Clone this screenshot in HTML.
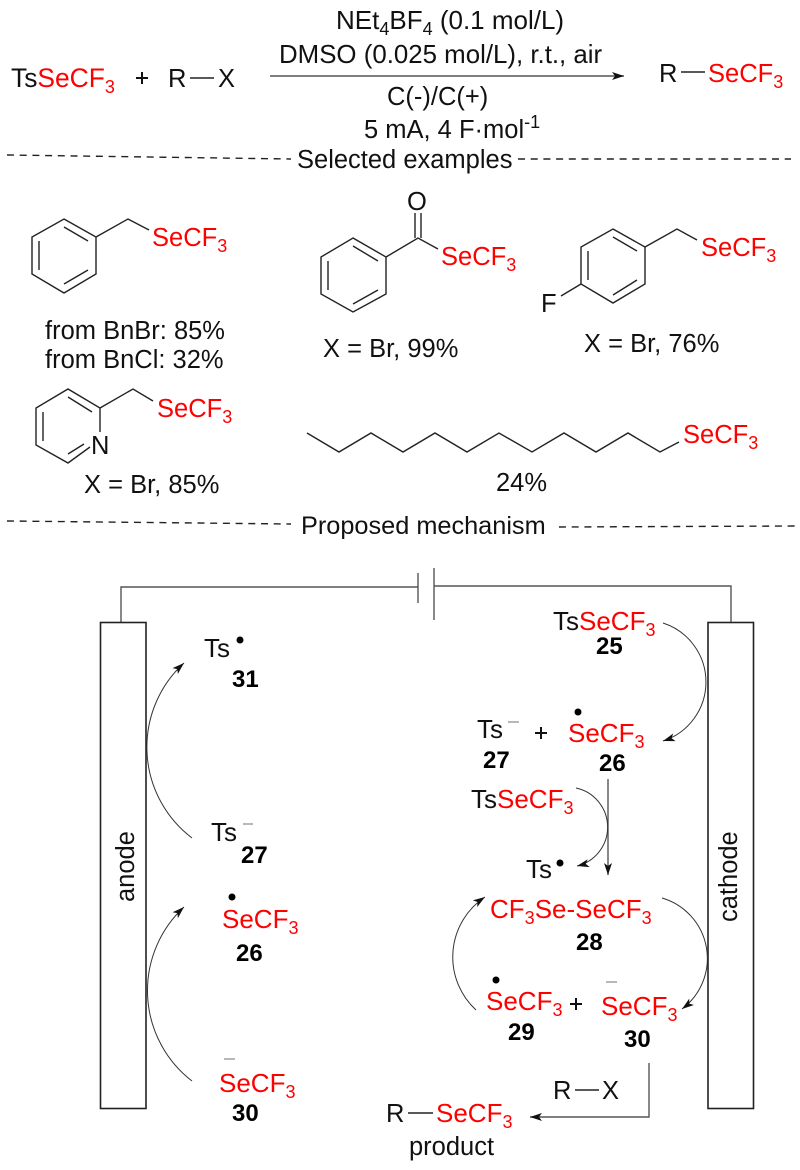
<!DOCTYPE html>
<html><head><meta charset="utf-8"><style>
html,body{margin:0;padding:0;background:#fff}
svg{display:block}
text{font-family:"Liberation Sans",Arial,sans-serif;font-size:25.500px;fill:#111}
.t{font-size:26px}
.r{fill:#f00}
.b{font-weight:bold;font-size:24px;fill:#000}
.s{font-size:18px}
.l{stroke:#222;stroke-width:1.4;fill:none}
.g{stroke:#555;stroke-width:1.4;fill:none}
.d{stroke:#222;stroke-width:1.4;fill:none;stroke-dasharray:7 5.700}
.c{stroke:#333;stroke-width:1;fill:none}
.m{stroke:#888;stroke-width:1.2}
.p{stroke:#111;stroke-width:2;fill:none}
</style></head><body>
<svg width="800" height="1170" viewBox="0 0 800 1170" xmlns="http://www.w3.org/2000/svg">
<defs><marker id="a" markerUnits="userSpaceOnUse" markerWidth="14" markerHeight="10" refX="12" refY="4" orient="auto"><path d="M0,0 L12,4 L0,8 L3,4 Z" fill="#111"/></marker></defs>

<!-- top reaction -->
<text x="11" y="87" style="font-size:26.400px">Ts<tspan class="r">SeCF</tspan><tspan class="r s" dy="6">3</tspan></text>
<path class="p" d="M136,78H148M142,72V84"/>
<text x="168" y="87">R</text><path class="l" d="M190,78H214"/><text x="218" y="87">X</text>
<line class="g" x1="270" y1="76" x2="624" y2="76" marker-end="url(#a)"/>
<text x="336" y="29" class="t">NEt<tspan class="s" dy="6">4</tspan><tspan dy="-6">BF</tspan><tspan class="s" dy="6">4</tspan><tspan dy="-6"> (0.1 mol/L)</tspan></text>
<text x="279" y="63" style="font-size:25.850px">DMSO (0.025 mol/L), r.t., air</text>
<text x="387" y="105">C(-)/C(+)</text>
<text x="364" y="138">5 mA, 4 F·mol<tspan class="s" dy="-10">-1</tspan></text>
<text x="659" y="82">R</text><path class="l" d="M681,72H705"/>
<text x="708" y="82" class="r">SeCF<tspan class="s" dy="6">3</tspan></text>

<path class="d" d="M7,155L291,159"/><path class="d" d="M518,159H791"/>
<text x="297" y="168">Selected examples</text>

<!-- benzyl -->
<path class="l" d="M64,219L96,237V274L64,293L32,274V237ZM96,237L128,219L149,230"/>
<path class="l" d="M64,227L88,241M88,270L64,284M39,241V270"/>
<text x="152" y="246" class="r">SeCF<tspan class="s" dy="6">3</tspan></text>
<text x="45" y="339">from BnBr: 85%</text>
<text x="45" y="368">from BnCl: 32%</text>

<!-- benzoyl -->
<path class="l" d="M353,238L386,257V294L353,312L321,294V257ZM386,257L418,238L438,249"/>
<path class="l" d="M353,246L378,261M378,290L353,304M328,261V290"/>
<path class="l" d="M415,238V213M421,238V213"/>
<text x="407" y="210">O</text>
<text x="441" y="265" class="r">SeCF<tspan class="s" dy="6">3</tspan></text>
<text x="323" y="357">X = Br, 99%</text>

<!-- fluoro benzyl -->
<path class="l" d="M613,229L645,247V284L613,303L581,284V247ZM645,247L677,229L697,240M581,284L561,296"/>
<path class="l" d="M613,237L637,251M637,280L613,295M588,251V280"/>
<text x="541" y="312">F</text>
<text x="701" y="256" class="r">SeCF<tspan class="s" dy="6">3</tspan></text>
<text x="584" y="352">X = Br, 76%</text>

<!-- pyridine -->
<path class="l" d="M90,447L68,463L36,445V408L68,389L100,408V432M100,408L133,389L153,401"/>
<path class="l" d="M68,397L92,412M43,412V441M68,454L84,444"/>
<text x="91" y="454">N</text>
<text x="157" y="417" class="r">SeCF<tspan class="s" dy="6">3</tspan></text>
<text x="84" y="493">X = Br, 85%</text>

<!-- chain -->
<path class="l" d="M307,433L339,452L371,433L403,452L435,433L467,452L499,433L532,452L564,433L596,452L628,433L660,452L679,442"/>
<text x="683" y="443" class="r">SeCF<tspan class="s" dy="6">3</tspan></text>
<text x="496" y="491">24%</text>

<path class="d" d="M7,521L291,524"/><path class="d" d="M559,527L797,526"/>
<text x="301" y="534" style="font-size:25.300px">Proposed mechanism</text>

<!-- cell -->
<path class="g" d="M121,622V587H418M418,573V603M434,568V620M434,586H731V622"/>
<rect class="l" style="stroke-width:1.600" x="100.500" y="622.500" width="45.500" height="486"/>
<rect class="l" style="stroke-width:1.600" x="708" y="622.500" width="45.500" height="486"/>
<text transform="translate(134,902) rotate(-90)">anode</text>
<text transform="translate(737,922) rotate(-90)">cathode</text>

<!-- anode side -->
<text x="204" y="657" class="t">Ts</text><circle cx="240" cy="640" r="3.500" fill="#000"/>
<text x="232" y="687" class="b">31</text>
<path class="c" d="M192,838A114,114 0 0 1 184,663" marker-end="url(#a)"/>
<text x="211" y="841" class="t">Ts</text><path class="m" d="M243,824H253"/>
<text x="241" y="863" class="b">27</text>
<circle cx="232" cy="897" r="3.500" fill="#000"/>
<text x="222" y="928" class="r t">SeCF<tspan class="s" dy="6">3</tspan></text>
<text x="236" y="961" class="b">26</text>
<path class="c" d="M192,1081A114,114 0 0 1 184,907" marker-end="url(#a)"/>
<path class="m" d="M224,1059H235"/>
<text x="219" y="1092" class="r t">SeCF<tspan class="s" dy="6">3</tspan></text>
<text x="232" y="1121" class="b">30</text>

<!-- cathode side -->
<text x="553" y="630" class="t">Ts<tspan class="r">SeCF</tspan><tspan class="r s" dy="6">3</tspan></text>
<text x="596" y="654" class="b">25</text>
<path class="c" d="M663,623A62,62 0 0 1 663,741" marker-end="url(#a)"/>
<text x="477" y="738" class="t">Ts</text><path class="m" d="M508,722H519"/>
<path class="p" d="M535,733H547M541,727V739"/>
<circle cx="578" cy="712" r="3.500" fill="#000"/>
<text x="568" y="742" class="r t">SeCF<tspan class="s" dy="6">3</tspan></text>
<text x="483" y="768" class="b">27</text>
<text x="599" y="771" class="b">26</text>
<line class="g" x1="608" y1="779" x2="608" y2="875" marker-end="url(#a)"/>
<text x="471" y="808" class="t">Ts<tspan class="r">SeCF</tspan><tspan class="r s" dy="6">3</tspan></text>
<path class="c" d="M576,788A40,40 0 0 1 577,866" marker-end="url(#a)"/>
<text x="526" y="878" class="t">Ts</text><circle cx="560" cy="863" r="3.500" fill="#000"/>

<text x="490" y="918" class="r t">CF<tspan class="s" dy="6">3</tspan><tspan dy="-6">Se-SeCF</tspan><tspan class="s" dy="6">3</tspan></text>
<text x="576" y="950" class="b">28</text>
<path class="c" d="M476,1010A72,72 0 0 1 485,897" marker-end="url(#a)"/>
<path class="c" d="M662,898A63,63 0 0 1 682,1009" marker-end="url(#a)"/>
<circle cx="496" cy="980" r="3.500" fill="#000"/>
<text x="486" y="1010" class="r t">SeCF<tspan class="s" dy="6">3</tspan></text>
<path class="p" d="M570,1004H582M576,998V1010"/>
<path class="m" d="M606,982H617"/>
<text x="601" y="1015" class="r t">SeCF<tspan class="s" dy="6">3</tspan></text>
<text x="508" y="1040" class="b">29</text>
<text x="624" y="1047" class="b">30</text>
<text x="553" y="1099">R</text><path class="l" d="M575,1090H599"/><text x="602" y="1099">X</text>
<path class="g" d="M649,1063V1117H530" marker-end="url(#a)"/>
<text x="386" y="1122">R</text><path class="l" d="M408,1113H433"/>
<text x="436" y="1122" class="r t">SeCF<tspan class="s" dy="6">3</tspan></text>
<text x="409" y="1155">product</text>
</svg>
</body></html>
